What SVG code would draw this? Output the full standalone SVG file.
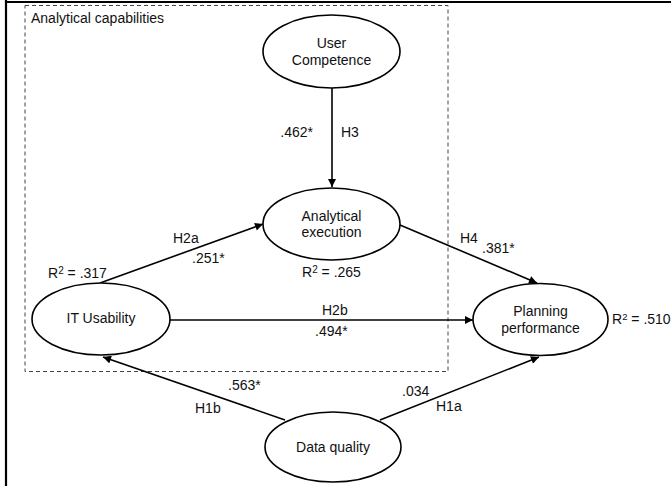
<svg xmlns="http://www.w3.org/2000/svg" width="671" height="486" viewBox="0 0 671 486">
<style>
text{font-family:"Liberation Sans",Arial,sans-serif;font-size:14px;fill:#111}
.m{text-anchor:middle}
.n ellipse{fill:#fff;stroke:#000;stroke-width:1.6}
#connectors line{stroke:#000;stroke-width:1.6}
</style>
<defs>
<marker id="ah" viewBox="0 0 10 10" refX="10" refY="5" markerWidth="10" markerHeight="8" markerUnits="userSpaceOnUse" orient="auto">
<path d="M0,0 L10,5 L0,10 z" fill="#000"/>
</marker>
</defs>
<rect width="671" height="486" fill="#fff"/>
<g id="frame">
<line x1="6" y1="0" x2="6" y2="486" stroke="#000" stroke-width="2.2"/>
<line x1="5" y1="2" x2="671" y2="2" stroke="#000" stroke-width="2.2"/>
</g>
<g id="analytical-capabilities">
<rect x="25" y="5.5" width="423" height="366" fill="none" stroke="#444" stroke-width="1" stroke-dasharray="4,3"/>
<text x="31" y="23">Analytical capabilities</text>
</g>
<g id="connectors">
<line x1="332" y1="88" x2="332" y2="187" marker-end="url(#ah)"/>
<line x1="100" y1="283" x2="263" y2="224" marker-end="url(#ah)"/>
<line x1="400" y1="225" x2="537" y2="283" marker-end="url(#ah)"/>
<line x1="170" y1="320" x2="473" y2="320" marker-end="url(#ah)"/>
<line x1="285" y1="420" x2="103" y2="357" marker-end="url(#ah)"/>
<line x1="380" y1="420" x2="539" y2="357" marker-end="url(#ah)"/>
</g>
<g id="labels">
<text x="313" y="137" text-anchor="end">.462*</text>
<text x="341" y="137">H3</text>
<text x="173" y="243">H2a</text>
<text x="192" y="263">.251*</text>
<text x="48" y="278">R<tspan font-size="10" dy="-4">2</tspan><tspan dy="4"> = .317</tspan></text>
<text x="302" y="277">R<tspan font-size="10" dy="-4">2</tspan><tspan dy="4"> = .265</tspan></text>
<text x="460" y="243">H4</text>
<text x="482" y="253">.381*</text>
<text x="322" y="315">H2b</text>
<text x="315" y="336">.494*</text>
<text x="612" y="324" font-size="13.5">R<tspan font-size="9.5" dy="-4">2</tspan><tspan dy="4"> = .510</tspan></text>
<text x="228" y="390">.563*</text>
<text x="195" y="413">H1b</text>
<text x="402" y="396">.034</text>
<text x="436" y="411">H1a</text>
</g>
<g id="user-competence" class="n">
<ellipse cx="331.5" cy="51.5" rx="68.5" ry="36.5"/>
<text class="m" x="331.5" y="48">User</text>
<text class="m" x="331.5" y="65">Competence</text>
</g>
<g id="analytical-execution" class="n">
<ellipse cx="331.5" cy="224" rx="68.5" ry="36"/>
<text class="m" x="331.5" y="221">Analytical</text>
<text class="m" x="331.5" y="237">execution</text>
</g>
<g id="it-usability" class="n">
<ellipse cx="101" cy="319" rx="69" ry="36"/>
<text class="m" x="101" y="323">IT Usability</text>
</g>
<g id="planning-performance" class="n">
<ellipse cx="540.5" cy="319.5" rx="67.5" ry="36"/>
<text class="m" x="540.5" y="316">Planning</text>
<text class="m" x="540.5" y="333">performance</text>
</g>
<g id="data-quality" class="n">
<ellipse cx="333" cy="447" rx="68" ry="35"/>
<text class="m" x="333" y="452">Data quality</text>
</g>
</svg>
